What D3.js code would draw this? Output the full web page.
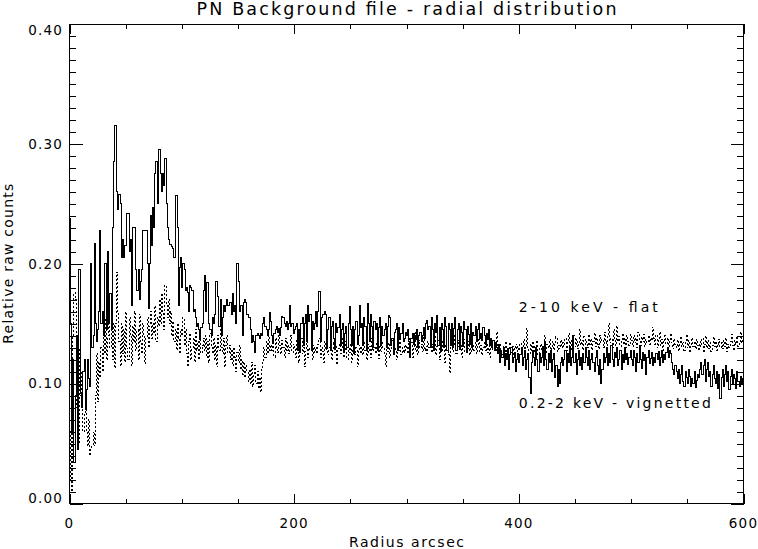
<!DOCTYPE html>
<html>
<head>
<meta charset="utf-8">
<script src="https://cdn.jsdelivr.net/npm/d3@7"></script>
<style>
  html, body { margin: 0; padding: 0; background: #fff; }
  svg { display: block; }
  text { font-family: "DejaVu Sans", sans-serif; fill: #000; }
</style>
</head>
<body>
<svg id="chart" width="758" height="549"></svg>
<script>
// 0.2-2 keV, vignetted (solid) - one value per arcsec bin, r = 0..599
const softCounts = [
  0.238,0.150,0.060,0.120,0.034,0.090,0.140,0.045,0.195,0.195,0.092,0.080,0.110,0.120,0.078,0.095,0.120,0.104,0.098,0.200,
  0.130,0.140,0.217,0.150,0.135,0.145,0.160,0.228,0.150,0.160,0.140,0.200,0.200,0.145,0.210,0.150,0.175,0.145,0.230,0.285,
  0.315,0.315,0.260,0.245,0.258,0.250,0.205,0.220,0.205,0.215,0.215,0.242,0.242,0.210,0.220,0.165,0.230,0.230,0.230,0.195,
  0.178,0.195,0.170,0.185,0.195,0.228,0.228,0.228,0.228,0.200,0.163,0.200,0.240,0.215,0.247,0.230,0.275,0.285,0.250,0.295,
  0.295,0.275,0.260,0.275,0.265,0.288,0.250,0.230,0.220,0.216,0.216,0.214,0.213,0.205,0.257,0.257,0.230,0.165,0.197,0.205,
  0.180,0.200,0.195,0.178,0.180,0.176,0.160,0.182,0.180,0.178,0.160,0.162,0.155,0.148,0.150,0.145,0.137,0.147,0.150,0.178,
  0.190,0.160,0.184,0.184,0.150,0.145,0.140,0.155,0.150,0.158,0.185,0.185,0.173,0.148,0.170,0.140,0.155,0.165,0.160,0.165,
  0.170,0.165,0.168,0.168,0.158,0.175,0.160,0.165,0.150,0.200,0.185,0.160,0.165,0.165,0.140,0.168,0.170,0.168,0.158,0.155,
  0.155,0.145,0.134,0.140,0.135,0.126,0.140,0.142,0.140,0.138,0.142,0.140,0.150,0.155,0.148,0.145,0.140,0.145,0.159,0.152,
  0.140,0.135,0.142,0.145,0.148,0.143,0.146,0.140,0.147,0.156,0.155,0.150,0.148,0.152,0.145,0.150,0.165,0.148,0.150,0.142,
  0.145,0.148,0.150,0.128,0.145,0.126,0.150,0.155,0.132,0.150,0.158,0.135,0.165,0.152,0.158,0.128,0.152,0.145,0.150,0.160,
  0.148,0.160,0.177,0.135,0.155,0.158,0.158,0.160,0.158,0.130,0.145,0.155,0.128,0.148,0.152,0.138,0.130,0.150,0.143,0.147,
  0.158,0.132,0.145,0.150,0.128,0.142,0.148,0.130,0.150,0.164,0.145,0.132,0.148,0.125,0.145,0.152,0.133,0.140,0.165,0.147,
  0.150,0.132,0.155,0.148,0.128,0.167,0.150,0.135,0.158,0.148,0.130,0.152,0.145,0.150,0.128,0.147,0.155,0.132,0.148,0.140,
  0.145,0.150,0.130,0.148,0.157,0.155,0.132,0.138,0.125,0.143,0.145,0.150,0.128,0.147,0.137,0.142,0.150,0.135,0.138,0.143,
  0.140,0.145,0.135,0.122,0.138,0.142,0.133,0.140,0.137,0.145,0.130,0.140,0.143,0.135,0.140,0.147,0.138,0.150,0.153,0.145,
  0.148,0.130,0.155,0.145,0.128,0.150,0.143,0.157,0.132,0.147,0.127,0.150,0.145,0.130,0.155,0.148,0.128,0.150,0.145,0.132,
  0.150,0.130,0.146,0.155,0.128,0.145,0.150,0.129,0.148,0.143,0.131,0.152,0.145,0.126,0.148,0.141,0.133,0.150,0.130,0.143,
  0.140,0.148,0.135,0.145,0.150,0.138,0.142,0.136,0.147,0.140,0.133,0.142,0.137,0.145,0.132,0.138,0.130,0.136,0.128,0.134,
  0.130,0.125,0.133,0.118,0.128,0.122,0.130,0.115,0.125,0.120,0.128,0.112,0.124,0.130,0.118,0.122,0.126,0.110,0.120,0.125,
  0.118,0.124,0.130,0.115,0.122,0.128,0.112,0.120,0.125,0.105,0.092,0.118,0.128,0.122,0.115,0.130,0.120,0.110,0.125,0.118,
  0.122,0.130,0.115,0.135,0.120,0.112,0.125,0.118,0.128,0.110,0.120,0.125,0.105,0.115,0.098,0.112,0.100,0.118,0.122,0.115,
  0.120,0.128,0.110,0.125,0.118,0.130,0.115,0.122,0.140,0.118,0.125,0.108,0.120,0.128,0.115,0.122,0.112,0.125,0.118,0.130,
  0.122,0.115,0.128,0.112,0.120,0.125,0.118,0.110,0.122,0.128,0.115,0.108,0.120,0.100,0.112,0.125,0.118,0.122,0.130,0.115,
  0.125,0.118,0.132,0.120,0.114,0.126,0.122,0.130,0.115,0.120,0.128,0.112,0.124,0.118,0.130,0.120,0.125,0.116,0.122,0.128,
  0.120,0.115,0.128,0.122,0.110,0.125,0.118,0.132,0.120,0.113,0.126,0.119,0.124,0.108,0.122,0.128,0.117,0.121,0.126,0.115,
  0.122,0.118,0.125,0.120,0.127,0.115,0.122,0.128,0.118,0.124,0.120,0.126,0.130,0.122,0.128,0.125,0.118,0.112,0.108,0.115,
  0.110,0.104,0.112,0.100,0.108,0.115,0.102,0.098,0.110,0.105,0.100,0.112,0.106,0.098,0.104,0.100,0.110,0.097,0.103,0.108,
  0.105,0.112,0.118,0.108,0.115,0.120,0.102,0.112,0.118,0.106,0.110,0.098,0.108,0.115,0.104,0.100,0.110,0.096,0.108,0.088,
  0.105,0.112,0.098,0.108,0.115,0.102,0.110,0.095,0.106,0.112,0.100,0.108,0.104,0.096,0.110,0.102,0.098,0.106,0.100,0.104
];

// 2-10 keV, flat (dotted)
const hardCounts = [
  0.020,0.060,0.010,0.140,0.176,0.170,0.080,0.120,0.050,0.130,0.090,0.110,0.060,0.075,0.095,0.060,0.048,0.070,0.040,0.045,
  0.048,0.060,0.048,0.090,0.125,0.085,0.118,0.105,0.130,0.110,0.150,0.125,0.155,0.120,0.140,0.170,0.130,0.165,0.120,0.150,
  0.113,0.150,0.193,0.160,0.135,0.115,0.150,0.125,0.145,0.118,0.160,0.130,0.120,0.155,0.140,0.115,0.148,0.135,0.160,0.128,
  0.145,0.120,0.158,0.135,0.125,0.150,0.140,0.117,0.138,0.155,0.130,0.148,0.160,0.138,0.150,0.142,0.165,0.135,0.155,0.148,
  0.170,0.150,0.175,0.160,0.145,0.182,0.165,0.155,0.170,0.150,0.160,0.140,0.152,0.135,0.145,0.128,0.150,0.138,0.125,0.145,
  0.140,0.155,0.132,0.145,0.125,0.114,0.135,0.142,0.120,0.130,0.138,0.118,0.145,0.128,0.135,0.120,0.140,0.125,0.132,0.138,
  0.128,0.140,0.122,0.135,0.118,0.142,0.130,0.125,0.138,0.120,0.132,0.114,0.140,0.128,0.145,0.130,0.125,0.138,0.114,0.132,
  0.140,0.125,0.132,0.120,0.128,0.115,0.130,0.122,0.110,0.126,0.118,0.132,0.112,0.120,0.108,0.118,0.105,0.115,0.110,0.102,
  0.112,0.100,0.118,0.098,0.108,0.115,0.100,0.110,0.096,0.105,0.093,0.112,0.118,0.130,0.122,0.135,0.125,0.140,0.128,0.132,
  0.128,0.135,0.122,0.138,0.130,0.126,0.140,0.132,0.125,0.136,0.130,0.122,0.138,0.128,0.134,0.125,0.130,0.140,0.126,0.133,
  0.130,0.122,0.136,0.128,0.118,0.132,0.138,0.125,0.130,0.114,0.127,0.135,0.122,0.130,0.128,0.136,0.120,0.132,0.126,0.130,
  0.125,0.133,0.138,0.122,0.130,0.127,0.118,0.135,0.128,0.132,0.124,0.130,0.137,0.120,0.128,0.134,0.126,0.131,0.116,0.129,
  0.133,0.125,0.130,0.138,0.122,0.128,0.135,0.120,0.131,0.126,0.133,0.118,0.129,0.136,0.124,0.130,0.114,0.127,0.132,0.125,
  0.130,0.124,0.136,0.128,0.120,0.133,0.126,0.131,0.122,0.138,0.127,0.130,0.125,0.134,0.128,0.121,0.132,0.126,0.135,0.129,
  0.125,0.114,0.130,0.127,0.134,0.122,0.129,0.136,0.124,0.131,0.127,0.120,0.133,0.128,0.135,0.124,0.130,0.126,0.132,0.128,
  0.131,0.125,0.138,0.128,0.134,0.122,0.130,0.143,0.127,0.132,0.124,0.136,0.129,0.133,0.126,0.140,0.128,0.131,0.125,0.135,
  0.130,0.138,0.126,0.133,0.129,0.141,0.124,0.131,0.136,0.120,0.132,0.127,0.135,0.130,0.118,0.133,0.128,0.124,0.109,0.130,
  0.135,0.127,0.132,0.140,0.125,0.131,0.136,0.128,0.133,0.122,0.130,0.137,0.126,0.132,0.129,0.135,0.124,0.131,0.127,0.133,
  0.128,0.134,0.125,0.131,0.138,0.127,0.132,0.124,0.130,0.135,0.128,0.133,0.126,0.131,0.122,0.129,0.136,0.127,0.132,0.128,
  0.143,0.130,0.126,0.133,0.128,0.124,0.131,0.127,0.135,0.125,0.130,0.128,0.134,0.126,0.131,0.122,0.129,0.133,0.127,0.131,
  0.128,0.134,0.125,0.131,0.137,0.127,0.132,0.146,0.129,0.124,0.133,0.128,0.135,0.126,0.131,0.129,0.136,0.124,0.130,0.133,
  0.127,0.132,0.129,0.140,0.126,0.133,0.130,0.137,0.125,0.131,0.135,0.128,0.133,0.139,0.127,0.132,0.129,0.136,0.130,0.134,
  0.131,0.138,0.128,0.135,0.142,0.130,0.136,0.127,0.133,0.140,0.131,0.137,0.129,0.134,0.145,0.132,0.136,0.128,0.139,0.133,
  0.135,0.130,0.141,0.133,0.137,0.128,0.135,0.142,0.131,0.138,0.133,0.129,0.140,0.134,0.137,0.130,0.143,0.135,0.132,0.139,
  0.150,0.134,0.138,0.130,0.145,0.136,0.132,0.148,0.135,0.139,0.131,0.137,0.142,0.133,0.138,0.130,0.140,0.135,0.132,0.141,
  0.136,0.131,0.140,0.134,0.138,0.130,0.143,0.136,0.132,0.139,0.135,0.141,0.131,0.137,0.134,0.140,0.133,0.138,0.136,0.147,
  0.138,0.133,0.141,0.130,0.136,0.143,0.132,0.137,0.128,0.135,0.140,0.133,0.138,0.131,0.136,0.142,0.134,0.129,0.137,0.133,
  0.130,0.136,0.127,0.133,0.139,0.131,0.135,0.128,0.134,0.141,0.130,0.136,0.126,0.133,0.138,0.131,0.135,0.129,0.137,0.132,
  0.128,0.135,0.131,0.138,0.126,0.133,0.140,0.130,0.136,0.129,0.134,0.127,0.132,0.139,0.131,0.135,0.128,0.133,0.137,0.130,
  0.134,0.129,0.136,0.131,0.138,0.127,0.133,0.130,0.135,0.141,0.132,0.128,0.136,0.133,0.139,0.131,0.135,0.143,0.134,0.137
];

const xTickValues = [0, 200, 400, 600];
const yTickValues = [0.0, 0.1, 0.2, 0.3, 0.4];
const yTickLabels = ["0.00", "0.10", "0.20", "0.30", "0.40"];
const bandLabels = ["2-10 keV - flat", "0.2-2 keV - vignetted"];
const bandAnchors = [[400, 0.16], [400, 0.08]];   // data units, like xyouts

// Настройки
const svg = d3.select("#chart");
const boxLeft = 69.5, boxRight = 743.5, boxTop = 24, boxBottom = 503.5;

const x = d3.scaleLinear().domain([0, 600]).range([boxLeft, boxRight]);
const y = d3.scaleLinear().domain([0, 0.4]).range([boxBottom, boxTop]);

// histogram steps (psym=10 style)
function steps(values) {
    const pts = values.map((v, i) => [i, v]);
    pts.push([values.length, values[values.length - 1]]);
    return pts;
}
const line = d3.line()
    .x(d => x(d[0]))
    .y(d => y(d[1]))
    .curve(d3.curveStepAfter);

svg.append("defs").append("clipPath").attr("id", "plot-clip")
    .append("rect")
    .attr("x", boxLeft).attr("y", boxTop)
    .attr("width", boxRight - boxLeft).attr("height", boxBottom - boxTop);

const plot = svg.append("g").attr("clip-path", "url(#plot-clip)");

plot.append("path")
    .datum(steps(hardCounts))
    .attr("d", line)
    .attr("fill", "none")
    .attr("stroke", "#000")
    .attr("stroke-width", 1)
    .attr("stroke-dasharray", "2,2")
    .attr("shape-rendering", "crispEdges");

plot.append("path")
    .datum(steps(softCounts))
    .attr("d", line)
    .attr("fill", "none")
    .attr("stroke", "#000")
    .attr("stroke-width", 1)
    .attr("shape-rendering", "crispEdges");

// Рамка і поділки
svg.append("rect")
    .attr("x", boxLeft).attr("y", boxTop)
    .attr("width", boxRight - boxLeft).attr("height", boxBottom - boxTop)
    .attr("fill", "none").attr("stroke", "#000")
    .attr("shape-rendering", "crispEdges");

function tickLayer(axis, transform) {
    const g = svg.append("g").attr("transform", transform).call(axis);
    g.select(".domain").remove();
    g.selectAll("line").attr("shape-rendering", "crispEdges");
    g.selectAll("text").remove();
    return g;
}

const yMinor = y.ticks(40);
const xMinor = x.ticks(12);

tickLayer(d3.axisLeft(y).tickValues(yMinor).tickSize(-6.5), `translate(${boxLeft},0)`);
tickLayer(d3.axisLeft(y).tickValues(yTickValues).tickSize(-13), `translate(${boxLeft},0)`);
tickLayer(d3.axisRight(y).tickValues(yMinor).tickSize(-6.5), `translate(${boxRight},0)`);
tickLayer(d3.axisRight(y).tickValues(yTickValues).tickSize(-13), `translate(${boxRight},0)`);
tickLayer(d3.axisBottom(x).tickValues(xMinor).tickSize(-5), `translate(0,${boxBottom})`);
tickLayer(d3.axisBottom(x).tickValues(xTickValues).tickSize(-10), `translate(0,${boxBottom})`);
tickLayer(d3.axisTop(x).tickValues(xMinor).tickSize(-5), `translate(0,${boxTop})`);
tickLayer(d3.axisTop(x).tickValues(xTickValues).tickSize(-10), `translate(0,${boxTop})`);

// tick labels (kept inside the box height like IDL does)
svg.append("g").selectAll("text")
    .data(yTickValues)
    .enter().append("text")
    .attr("x", 63)
    .attr("y", d => Math.min(Math.max(y(d), 30.5), 498))
    .attr("dy", "0.36em")
    .attr("text-anchor", "end")
    .attr("font-size", 13.5)
    .attr("letter-spacing", 1.2)
    .text((d, i) => yTickLabels[i]);

svg.append("g").selectAll("text")
    .data(xTickValues)
    .enter().append("text")
    .attr("x", d => x(d))
    .attr("y", 528)
    .attr("text-anchor", "middle")
    .attr("font-size", 13.5)
    .attr("letter-spacing", 1.2)
    .text(d => d);

// Підписи
svg.append("text")
    .attr("x", (boxLeft + boxRight) / 2)
    .attr("y", 15)
    .attr("text-anchor", "middle")
    .attr("font-size", 17.5)
    .attr("textLength", 420)
    .attr("lengthAdjust", "spacing")
    .text("PN Background file - radial distribution");

svg.append("text")
    .attr("x", (boxLeft + boxRight) / 2)
    .attr("y", 547)
    .attr("text-anchor", "middle")
    .attr("font-size", 14)
    .attr("textLength", 115)
    .attr("lengthAdjust", "spacing")
    .text("Radius arcsec");

svg.append("text")
    .attr("transform", `translate(13,${(boxTop + boxBottom) / 2}) rotate(-90)`)
    .attr("text-anchor", "middle")
    .attr("font-size", 14)
    .attr("textLength", 160)
    .attr("lengthAdjust", "spacing")
    .text("Relative raw counts");

svg.append("g").selectAll("text")
    .data(bandLabels)
    .enter().append("text")
    .attr("x", (d, i) => x(bandAnchors[i][0]))
    .attr("y", (d, i) => y(bandAnchors[i][1]))
    .attr("font-size", 14)
    .attr("textLength", (d, i) => i === 0 ? 139 : 192)
    .attr("lengthAdjust", "spacing")
    .text(d => d);
</script>
</body>
</html>
